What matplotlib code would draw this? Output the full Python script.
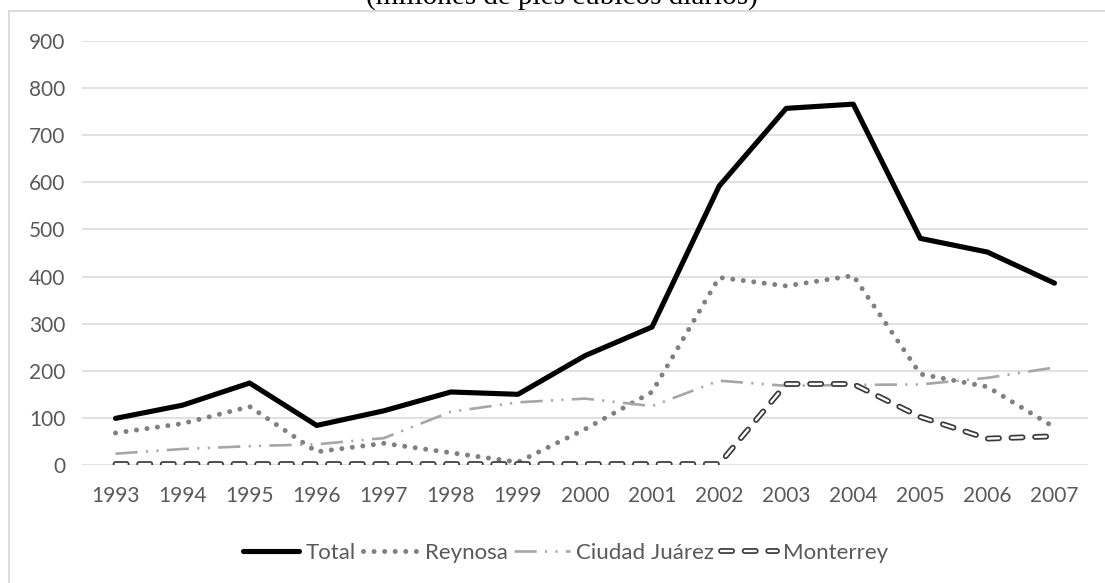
import matplotlib.pyplot as plt
from matplotlib.lines import Line2D
from matplotlib.legend_handler import HandlerTuple

plt.rcParams['font.family'] = ['Lato', 'DejaVu Sans']
plt.rcParams['lines.scale_dashes'] = False

years = [1993, 1994, 1995, 1996, 1997, 1998, 1999, 2000,
         2001, 2002, 2003, 2004, 2005, 2006, 2007]
total = [99, 127, 174, 84, 115, 155, 150, 232, 293, 592, 757, 766, 481, 452, 386]
reynosa = [68, 88, 124, 28, 46, 26, 6, 76, 155, 398, 380, 402, 193, 166, 80]
juarez = [24, 34, 40, 44, 57, 113, 133, 141, 125, 179, 168, 170, 171, 185, 207]
monterrey = [2, 2, 2, 2, 2, 2, 2, 2, 2, 2, 172, 172, 102, 56, 61]

grey_txt = '#595959'
grid_c = '#d9d9d9'

fig = plt.figure(figsize=(11.05, 5.83), dpi=100)
ax = fig.add_axes([82/1105, 1 - 465/583, 1006/1105, 424/583])

x = list(range(len(years)))
h_total, = ax.plot(x, total, color='black', lw=3.7, solid_capstyle='round',
                   solid_joinstyle='round', label='Total', zorder=4)
h_rey, = ax.plot(x, reynosa, color='#808080', lw=3.6,
                 linestyle=(0, (0.01, 7.6)), dash_capstyle='round',
                 label='Reynosa', zorder=3)
h_jua, = ax.plot(x, juarez, color='#a6a6a6', lw=1.9,
                 linestyle=(0, (16, 6, 1.5, 6, 1.5, 6)),
                 label='Ciudad Juárez', zorder=3)
h_mon, = ax.plot(x, monterrey, color='#3a3a3a', lw=4.2,
                 linestyle=(0, (8, 9)), dash_capstyle='round',
                 label='Monterrey', zorder=5)
h_mon_in, = ax.plot(x, monterrey, color='white', lw=1.7,
                    linestyle=(0, (8, 9)), dash_capstyle='round', zorder=6)

ax.set_xlim(-0.5, len(years) - 0.5)
ax.set_ylim(0, 900)
ax.set_yticks(range(0, 901, 100))
ax.set_xticks(x)
ax.set_xticklabels([str(y) for y in years])
ax.grid(axis='y', color=grid_c, lw=1.1)
ax.set_axisbelow(True)
for s in ax.spines.values():
    s.set_visible(False)
ax.tick_params(axis='both', length=0, labelsize=15, labelcolor=grey_txt)
ax.tick_params(axis='y', pad=12)
ax.tick_params(axis='x', pad=15)

fig.legend([h_total, h_rey, h_jua, (h_mon, h_mon_in)],
           ['Total', 'Reynosa', 'Ciudad Juárez', 'Monterrey'],
           handler_map={tuple: HandlerTuple(ndivide=1, pad=0)},
           loc='center', bbox_to_anchor=(566/1105, 1 - 553/583), ncol=4,
           frameon=False, fontsize=16, labelcolor=grey_txt,
           handlelength=2.5, handletextpad=0.3, columnspacing=0.3)

# chart frame (only top and left edges are visible)
fig.add_artist(Line2D([9/1105, 1], [1 - 11/583, 1 - 11/583],
                      color=grid_c, lw=1.3))
fig.add_artist(Line2D([9/1105, 9/1105], [0, 1 - 11/583],
                      color=grid_c, lw=1.3))

# title cut off by the top of the image
fig.text(562/1105, 1 - 3.5/583, '(millones de pies cúbicos diarios)',
         ha='center', va='baseline', fontsize=21, family='Liberation Serif')

plt.savefig('out.png', dpi=100)
